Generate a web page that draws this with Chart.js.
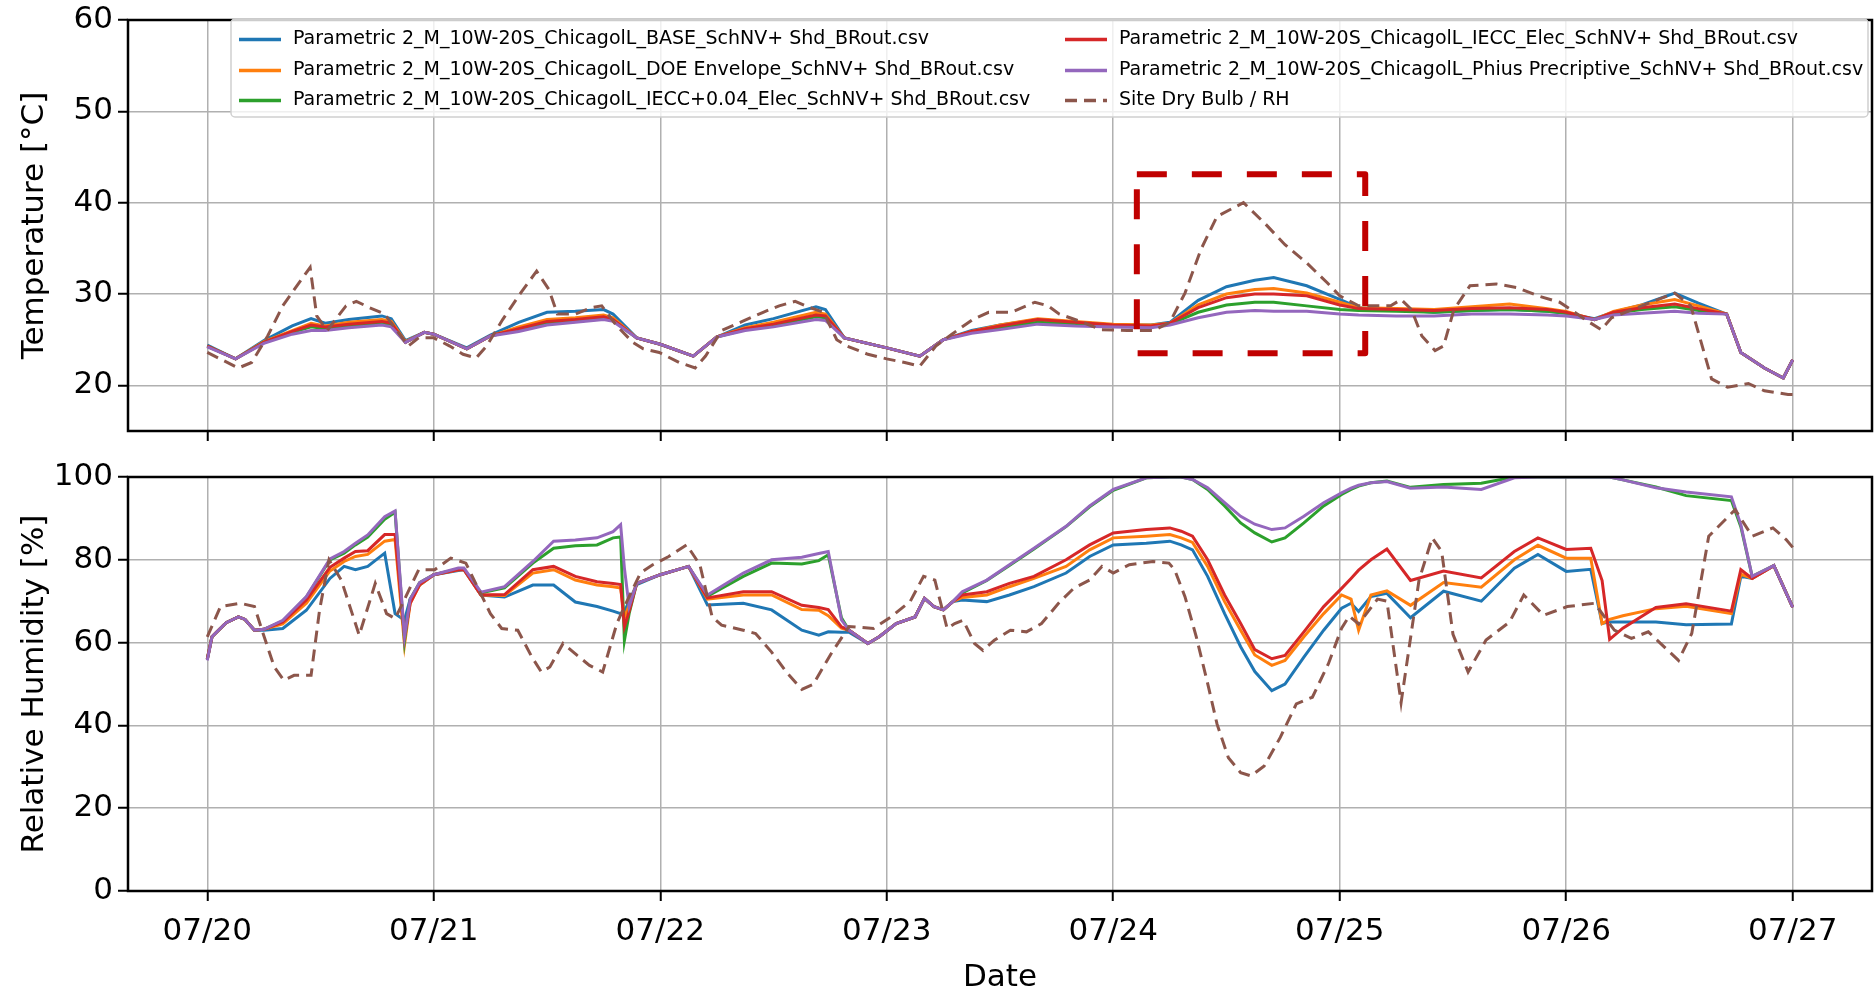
<!DOCTYPE html>
<html>
<head>
<meta charset="utf-8">
<title>Parametric 2 - Chicago - Temperature / RH</title>
<script src="https://cdn.jsdelivr.net/npm/chart.js@4.4.0/dist/chart.umd.min.js"></script>
<style>
    html, body { margin: 0; padding: 0; background: #ffffff; }
    #wrap { position: relative; width: 1876px; height: 991px; overflow: hidden; }
    #tempChart { position: absolute; left: 0; top: -10px; }
    #rhChart { position: absolute; left: 0; top: 450px; }
</style>
</head>
<body>
<div id="wrap">
    <canvas id="tempChart" width="1876" height="470"></canvas>
    <canvas id="rhChart" width="1876" height="541"></canvas>
</div>
<script>
// ---------------------------------------------------------------
// Data (x = hours since 07/20 00:00)
// ---------------------------------------------------------------
const dayHours = [0, 24, 48, 72, 96, 120, 144, 168];
const dayLabels = ['07/20', '07/21', '07/22', '07/23', '07/24', '07/25', '07/26', '07/27'];
const tempTicks = [20, 30, 40, 50, 60];
const rhTicks = [0, 20, 40, 60, 80, 100];

const seriesNames = [
    'Parametric 2_M_10W-20S_ChicagolL_BASE_SchNV+ Shd_BRout.csv',
    'Parametric 2_M_10W-20S_ChicagolL_DOE Envelope_SchNV+ Shd_BRout.csv',
    'Parametric 2_M_10W-20S_ChicagolL_IECC+0.04_Elec_SchNV+ Shd_BRout.csv',
    'Parametric 2_M_10W-20S_ChicagolL_IECC_Elec_SchNV+ Shd_BRout.csv',
    'Parametric 2_M_10W-20S_ChicagolL_Phius Precriptive_SchNV+ Shd_BRout.csv',
    'Site Dry Bulb / RH'
];

// Indoor temperature [°C]
const tempHours = [0, 3, 6, 9, 11, 12.5, 15, 18.5, 19.5, 21, 23, 24, 27.5, 30, 33, 36, 39, 42, 43, 45.5,
    48, 51.5, 54, 57, 60, 64.5, 65.5, 67.5, 72, 75.5, 78, 81, 84, 88, 92, 96, 100, 102, 105, 108,
    111, 113, 116.5, 120, 122, 126, 130, 134, 138, 142, 144, 147, 149, 152, 155.5, 158, 161, 162.5, 165, 167, 168];
const tempBase = [24.4, 22.9, 24.9, 26.5, 27.3, 26.8, 27.2, 27.6, 27.3, 24.9,
    25.8, 25.6, 24.1, 25.5, 26.9, 28.0, 28.1, 28.3, 27.8, 25.2,
    24.5, 23.2, 25.3, 26.6, 27.3, 28.6, 28.3, 25.2, 24.1, 23.2,
    25.0, 26.0, 26.6, 27.2, 26.9, 26.6, 26.6, 26.9, 29.3, 30.8,
    31.5, 31.8, 30.9, 29.4, 28.5, 28.3, 28.0, 28.2, 28.3, 28.1,
    27.9, 27.3, 28.0, 28.8, 30.1, 29.0, 27.8, 23.6, 21.9, 20.8, 22.8];
const tempDoe = [24.3, 22.9, 24.8, 26.0, 26.8, 26.5, 26.9, 27.2, 27.0, 24.8,
    25.8, 25.6, 24.0, 25.4, 26.4, 27.2, 27.4, 27.7, 27.4, 25.2,
    24.5, 23.2, 25.3, 26.3, 26.9, 28.0, 27.8, 25.2, 24.1, 23.2,
    25.0, 25.9, 26.6, 27.3, 27.0, 26.7, 26.6, 26.8, 28.8, 30.0,
    30.5, 30.6, 30.1, 29.1, 28.5, 28.4, 28.3, 28.6, 28.9, 28.4,
    28.1, 27.2, 28.1, 28.8, 29.4, 28.7, 27.8, 23.6, 21.9, 20.8, 22.8];
const tempIecc04 = [24.3, 22.9, 24.7, 25.8, 26.4, 26.2, 26.5, 26.8, 26.6, 24.7,
    25.8, 25.6, 24.0, 25.4, 26.1, 26.8, 27.0, 27.3, 27.1, 25.2,
    24.5, 23.2, 25.3, 26.1, 26.6, 27.5, 27.4, 25.2, 24.1, 23.2,
    25.0, 25.8, 26.3, 26.9, 26.7, 26.5, 26.4, 26.7, 28.0, 28.8,
    29.1, 29.1, 28.7, 28.3, 28.2, 28.1, 28.0, 28.2, 28.3, 28.1,
    27.9, 27.2, 27.9, 28.3, 28.6, 28.2, 27.8, 23.6, 21.9, 20.8, 22.8];
const tempIecc = [24.3, 22.9, 24.7, 25.9, 26.6, 26.4, 26.7, 27.0, 26.8, 24.7,
    25.8, 25.6, 24.0, 25.4, 26.2, 27.0, 27.2, 27.5, 27.2, 25.2,
    24.5, 23.2, 25.3, 26.2, 26.7, 27.7, 27.6, 25.2, 24.1, 23.2,
    25.0, 25.9, 26.5, 27.2, 26.9, 26.6, 26.5, 26.8, 28.5, 29.6,
    30.0, 30.0, 29.8, 28.8, 28.4, 28.3, 28.2, 28.4, 28.5, 28.3,
    28.0, 27.2, 28.0, 28.5, 28.9, 28.4, 27.8, 23.6, 21.9, 20.8, 22.8];
const tempPhius = [24.2, 22.9, 24.6, 25.6, 26.0, 26.0, 26.3, 26.6, 26.4, 24.7,
    25.8, 25.6, 24.0, 25.4, 25.9, 26.6, 26.9, 27.2, 27.0, 25.2,
    24.5, 23.2, 25.3, 26.0, 26.4, 27.2, 27.1, 25.2, 24.1, 23.2,
    25.0, 25.7, 26.1, 26.7, 26.5, 26.4, 26.3, 26.6, 27.4, 28.0,
    28.2, 28.1, 28.1, 27.8, 27.7, 27.6, 27.6, 27.8, 27.8, 27.7,
    27.6, 27.2, 27.7, 27.9, 28.1, 27.9, 27.8, 23.6, 21.9, 20.8, 22.8];

// Site dry bulb [°C]
const siteTempHours = [0, 3.3, 4.7, 6.4, 8, 9.7, 10.9, 11.6, 12.7, 14.7, 15.8, 17.2, 18.8, 21.3, 22.4,
    24, 25.7, 27.1, 28.5, 29.6, 31.3, 33.2, 34.9, 36.2, 37.1, 39, 40.7, 41.8, 43.4, 45.1,
    46.2, 47.9, 50, 51.7, 52.8, 54.5, 56.7, 58.9, 60.6, 62.3, 63.9, 65.3, 66.7, 67.8, 70,
    72, 73.9, 75.5, 77.2, 78.9, 81.1, 82.8, 85.2, 87.7, 89.1, 90.3, 92.5, 94.7, 97.5, 100.3,
    102, 103.6, 105.3, 107, 109.8, 112, 114.2, 116.5, 118.7, 120, 122, 125.4, 126.5, 127.6, 128.7,
    130.1, 131, 132.1, 133.8, 136.6, 138.8, 141, 143.3, 144.9, 146, 147.7, 148.8, 151, 155.5, 157.2,
    158.3, 159.4, 161.1, 163.3, 165, 167.5, 168];
const siteTemp = [23.6, 21.9, 22.5, 25.4, 28.7, 31.2, 32.9, 27.6, 26.0, 28.7, 29.2, 28.5, 27.8, 24.3, 25.2,
    25.2, 24.3, 23.4, 23.0, 24.3, 27.2, 30.1, 32.5, 30.5, 27.8, 27.8, 28.5, 28.7, 26.5, 24.7,
    24.0, 23.6, 22.5, 21.9, 23.2, 26.0, 27.0, 28.0, 28.7, 29.2, 28.5, 28.0, 25.0, 24.3, 23.4,
    22.9, 22.5, 22.1, 24.3, 25.6, 27.2, 28.0, 28.0, 29.1, 28.7, 27.8, 27.0, 26.1, 26.0, 26.0,
    26.9, 30.1, 34.9, 38.5, 40.0, 37.8, 35.4, 33.4, 31.2, 29.8, 28.7, 28.7, 29.4, 28.3, 25.4,
    23.8, 24.3, 28.3, 30.9, 31.1, 30.7, 29.8, 29.1, 28.0, 27.2, 26.1, 27.4, 28.3, 30.1, 28.7,
    24.7, 20.7, 19.8, 20.2, 19.4, 19.0, 19.0];

// Indoor relative humidity [%]
const rhHours = [0, 0.5, 2, 3.3, 4, 5, 6, 8, 10.5, 13, 14.5, 15.7, 17, 18.8, 19.9, 20.9, 21.5, 22.5, 24, 26.6,
    27.2, 29, 31.5, 34.5, 36.7, 39, 41.3, 43, 43.8, 44.2, 44.7, 45.5, 48, 51, 53, 56.8, 59.8, 63, 64.8, 65.8,
    67.2, 68, 70, 71.2, 73, 75, 76, 77, 78, 79, 80, 82.6, 85, 87.6, 91, 93.5, 96, 99.5, 102, 103.2,
    104.4, 106, 107.8, 109.5, 111, 112.8, 114.2, 116.2, 118.3, 120.2, 121.2, 122, 123.3, 125, 127.5, 131, 135, 138.5, 141, 144,
    146.6, 147.8, 148.6, 150, 153.5, 156.7, 161.5, 162.5, 163.7, 166, 168];
const rhBase = [56.0, 61.4, 64.8, 66.2, 65.6, 63.0, 63.0, 63.4, 67.8, 75.5,
    78.4, 77.6, 78.4, 81.6, 67.0, 65.4, 70.5, 73.9, 76.4, 77.4,
    77.6, 71.5, 71.0, 73.9, 73.9, 69.8, 68.7, 67.6, 67.0, 67.5,
    70.0, 74.0, 76.4, 78.4, 69.1, 69.5, 67.9, 63.0, 61.8, 62.6,
    62.5, 62.5, 59.8, 61.4, 64.6, 66.2, 70.7, 68.7, 67.9, 69.9,
    70.3, 69.9, 71.5, 73.5, 76.8, 80.8, 83.6, 84.0, 84.5, 83.6,
    82.4, 76.0, 67.0, 59.0, 53.0, 48.4, 50.0, 56.5, 63.0, 68.3,
    69.5, 67.5, 71.1, 71.9, 66.0, 72.4, 70.0, 78.0, 81.3, 77.2,
    77.7, 64.6, 65.0, 65.0, 65.0, 64.3, 64.5, 76.0, 75.5, 78.6, 68.5];
const rhDoe = [56.0, 61.4, 64.8, 66.2, 65.6, 63.0, 63.2, 64.5, 69.5, 77.3,
    79.6, 80.8, 81.3, 84.5, 84.9, 59.5, 69.5, 73.9, 76.4, 77.6,
    77.6, 71.5, 71.4, 76.8, 77.6, 75.1, 73.9, 73.5, 73.2, 66.0,
    69.0, 74.3, 76.4, 78.4, 70.5, 71.5, 71.5, 68.0, 67.8, 66.5,
    63.5, 63.0, 59.8, 61.4, 64.6, 66.2, 70.7, 68.7, 67.9, 69.9,
    70.9, 71.5, 73.5, 75.5, 78.4, 82.4, 85.3, 85.7, 86.1, 85.3,
    84.2, 78.4, 69.9, 63.0, 57.0, 54.5, 55.7, 61.4, 67.0, 71.5,
    70.5, 63.0, 71.5, 72.5, 69.0, 74.5, 73.4, 80.0, 83.5, 80.4,
    80.4, 64.6, 65.6, 66.5, 68.2, 68.8, 67.0, 76.5, 75.5, 78.6, 68.5];
const rhIecc04 = [56.0, 61.4, 64.8, 66.2, 65.6, 63.0, 63.2, 65.2, 71.0, 80.0,
    81.6, 83.6, 85.5, 89.8, 91.5, 60.5, 70.5, 74.5, 76.4, 77.8,
    77.8, 72.0, 73.2, 79.2, 82.8, 83.4, 83.6, 85.3, 85.5, 60.5,
    67.0, 74.3, 76.4, 78.4, 71.2, 76.0, 79.2, 79.0, 79.8, 81.2,
    66.0, 63.0, 59.8, 61.4, 64.6, 66.2, 70.7, 68.7, 67.9, 69.9,
    72.0, 75.0, 78.6, 82.6, 88.0, 92.8, 96.8, 99.8, 100, 100,
    99.4, 97.0, 93.0, 88.9, 86.5, 84.3, 85.3, 88.9, 93.0, 95.8,
    97.0, 97.8, 98.6, 99.0, 97.5, 98.2, 98.5, 100, 100, 100,
    100, 100, 100, 99.3, 97.6, 95.5, 94.3, 88.0, 76.0, 78.6, 68.5];
const rhIecc = [56.0, 61.4, 64.8, 66.2, 65.6, 63.0, 63.2, 65.0, 70.3, 78.2,
    80.4, 82.0, 82.2, 86.1, 86.1, 61.5, 69.5, 74.0, 76.4, 77.6,
    77.6, 71.5, 71.6, 77.6, 78.4, 76.0, 74.7, 74.3, 74.0, 63.8,
    67.5, 74.3, 76.4, 78.4, 70.8, 72.3, 72.3, 69.0, 68.5, 68.0,
    63.8, 63.0, 59.8, 61.4, 64.6, 66.2, 70.7, 68.7, 67.9, 69.9,
    71.5, 72.3, 74.3, 76.0, 80.0, 83.6, 86.5, 87.3, 87.7, 86.9,
    85.7, 80.0, 71.5, 64.6, 58.3, 56.1, 56.9, 62.6, 68.7, 73.1,
    75.5, 77.5, 80.0, 82.6, 75.0, 77.3, 75.6, 82.0, 85.3, 82.5,
    82.8, 75.0, 60.8, 63.5, 68.5, 69.4, 67.6, 77.6, 75.5, 78.6, 68.5];
const rhPhius = [55.7, 61.4, 64.8, 66.2, 65.6, 63.0, 63.2, 65.4, 71.1, 80.2,
    82.0, 84.0, 86.0, 90.4, 91.8, 61.4, 70.5, 74.5, 76.4, 78.0,
    78.0, 72.2, 73.5, 79.6, 84.5, 84.8, 85.3, 86.8, 88.5, 78.0,
    68.7, 74.3, 76.4, 78.4, 71.5, 76.8, 80.0, 80.6, 81.5, 82.0,
    65.5, 63.0, 59.8, 61.4, 64.6, 66.2, 70.7, 68.7, 67.9, 69.9,
    72.3, 75.1, 78.8, 82.8, 88.1, 93.0, 97.0, 99.8, 100, 100,
    99.4, 97.4, 93.8, 90.5, 88.6, 87.3, 87.7, 90.5, 93.8, 96.2,
    97.3, 98.0, 98.6, 98.9, 97.3, 97.6, 97.0, 99.8, 100, 100,
    100, 100, 100, 99.3, 97.4, 96.4, 95.2, 88.5, 76.0, 78.6, 68.5];

// Site relative humidity [%]
const siteRhHours = [0, 1.4, 3.5, 5, 5.8, 7.1, 8.1, 9.2, 11, 11.9, 12.9, 14.2, 16.1, 17.8, 19,
    19.9, 20.7, 22.4, 24.1, 25.8, 27.4, 28.7, 30, 31.2, 32.9, 34.4, 35.4, 36.3, 37.7, 39.2,
    40.5, 41.9, 43.4, 44.2, 45.9, 47.2, 48.9, 50.8, 52.2, 53.5, 54.5, 56.8, 58.1, 59.8, 61.5,
    63, 64.2, 66.1, 68, 70.6, 72.5, 74.5, 75.9, 77.1, 78.4, 79.2, 80.1, 81.3, 82.2, 83.4,
    85.1, 86.8, 88.4, 90.2, 91.8, 93.5, 94.8, 96, 97.7, 100.2, 101.9, 102.5, 103.6, 104.8, 106.1,
    107, 108.2, 109.5, 110.6, 112, 113.7, 115.4, 117.1, 118.8, 120.2, 121, 122, 124, 125, 126.5,
    128.4, 129.8, 130.8, 132, 133.6, 135.5, 138, 139.5, 141.6, 144.1, 147, 149.1, 150.9, 152.7, 155.9,
    157.3, 159.1, 161.9, 163.7, 165.9, 167.3, 168];
const siteRh = [61.4, 68.7, 69.5, 68.7, 63.0, 54.1, 50.9, 52.1, 52.1, 67.9, 80.0, 75.1, 61.8, 74.3, 67.0,
    65.8, 69.5, 77.6, 77.6, 80.4, 79.2, 73.1, 67.0, 63.4, 63.0, 56.5, 52.9, 54.1, 59.8, 56.9,
    54.5, 52.9, 64.6, 68.7, 76.8, 78.8, 80.8, 83.6, 78.8, 66.2, 64.2, 63.0, 62.2, 57.7, 52.5,
    48.7, 49.9, 57.3, 63.9, 63.4, 66.3, 70.0, 76.0, 75.1, 63.4, 64.6, 65.4, 59.8, 58.1, 60.6,
    63.0, 62.6, 64.6, 69.5, 73.1, 75.1, 78.4, 76.8, 78.8, 79.6, 79.2, 77.6, 71.1, 61.4, 49.2,
    40.3, 32.2, 28.6, 27.8, 30.2, 37.1, 45.2, 46.8, 54.9, 63.5, 66.4, 64.5, 70.5, 70.0, 45.5,
    75.1, 85.3, 82.0, 62.0, 52.9, 60.6, 65.0, 71.5, 66.6, 68.7, 69.5, 63.0, 61.0, 62.6, 55.7,
    62.2, 85.7, 92.1, 85.7, 87.7, 84.9, 83.0];

// Highlighted period (hours, °C)
const highlightHours = [98.5, 122.7];
const highlightTemps = [23.5, 43.1];

// ---------------------------------------------------------------
// Styling
// ---------------------------------------------------------------
const COLORS = ['#1f77b4', '#ff7f0e', '#2ca02c', '#d62728', '#9467bd', '#8c564b'];
const FONT = "'DejaVu Sans', sans-serif";
const X_PAD = 8.4;           // 5% margin either side, like matplotlib
const Y_AXIS_WIDTH = 128;
const GRID_COLOR = '#b0b0b0';

Chart.defaults.font.family = FONT;
Chart.defaults.color = '#000000';

function toPoints(hours, values) {
    return hours.map((h, i) => ({ x: h, y: values[i] }));
}

/**
 * Build the 6 datasets of one panel (5 simulations + site dashed line)
 */
function buildDatasets(simHours, simSeries, siteHours, siteValues) {
    const datasets = simSeries.map((values, i) => ({
        label: seriesNames[i],
        data: toPoints(simHours, values),
        borderColor: COLORS[i],
        borderWidth: 3,
        order: 10 - i,
    }));
    datasets.push({
        label: seriesNames[5],
        data: toPoints(siteHours, siteValues),
        borderColor: COLORS[5],
        borderWidth: 3,
        borderDash: [12, 7],
        order: 1,
    });
    datasets.forEach(ds => {
        ds.pointRadius = 0;
        ds.tension = 0;
        ds.fill = false;
    });
    return datasets;
}

/**
 * Options shared by both panels
 */
function buildOptions({ yMin, yMax, yTicks, yTitle, showX, xHeight, padTop }) {
    return {
        responsive: false,
        animation: false,
        devicePixelRatio: 1,
        layout: { padding: { top: padTop, right: 4, left: 0, bottom: 0 } },
        plugins: {
            legend: { display: false },
            tooltip: { enabled: false },
        },
        scales: {
            x: {
                type: 'linear',
                min: -X_PAD,
                max: 168 + X_PAD,
                afterBuildTicks: (scale) => { scale.ticks = dayHours.map(value => ({ value })); },
                afterFit: (scale) => { scale.height = xHeight; },
                border: { display: false },
                grid: {
                    color: GRID_COLOR,
                    lineWidth: 1.5,
                    drawTicks: true,
                    tickLength: 10,
                    tickColor: '#000000',
                    tickWidth: 2,
                },
                ticks: {
                    display: showX,
                    maxRotation: 0,
                    autoSkip: false,
                    padding: 12,
                    font: { size: 31 },
                    color: '#000000',
                    callback: (value, index) => dayLabels[index],
                },
                title: {
                    display: showX,
                    text: 'Date',
                    font: { size: 31, lineHeight: 0.85 },
                    padding: { top: 0, bottom: 0 },
                    color: '#000000',
                },
            },
            y: {
                min: yMin,
                max: yMax,
                afterBuildTicks: (scale) => { scale.ticks = yTicks.map(value => ({ value })); },
                afterFit: (scale) => { scale.width = Y_AXIS_WIDTH; },
                border: { display: false },
                grid: {
                    color: GRID_COLOR,
                    lineWidth: 1.5,
                    drawTicks: true,
                    tickLength: 10,
                    tickColor: '#000000',
                    tickWidth: 2,
                },
                ticks: {
                    padding: 5,
                    font: { size: 31 },
                    color: '#000000',
                    callback: (value) => String(value),
                },
                title: {
                    display: true,
                    text: yTitle,
                    font: { size: 31 },
                    padding: { top: 16, bottom: 0 },
                    color: '#000000',
                },
            },
        },
    };
}

// Black frame round the plot area (all four spines)
const framePlugin = {
    id: 'frame',
    afterDatasetsDraw(chart) {
        const { ctx, chartArea: a } = chart;
        ctx.save();
        ctx.strokeStyle = '#000000';
        ctx.lineWidth = 2.5;
        ctx.strokeRect(a.left, a.top, a.right - a.left, a.bottom - a.top);
        ctx.restore();
    }
};

// Red dashed box marking the hot period, placed through the scales
const highlightPlugin = {
    id: 'highlight',
    afterDatasetsDraw(chart) {
        const { ctx, scales } = chart;
        const x0 = scales.x.getPixelForValue(highlightHours[0]);
        const x1 = scales.x.getPixelForValue(highlightHours[1]);
        const y0 = scales.y.getPixelForValue(highlightTemps[1]);
        const y1 = scales.y.getPixelForValue(highlightTemps[0]);
        ctx.save();
        ctx.strokeStyle = '#c00000';
        ctx.lineWidth = 6;
        ctx.lineJoin = 'round';
        ctx.setLineDash([30, 25]);
        ctx.strokeRect(x0, y0, x1 - x0, y1 - y0);
        ctx.restore();
    }
};

// Two-column legend box at the top of the temperature panel
// (canvas is shifted up by 10px, so positions are page y + 10)
const LEGEND = { left: 231, top: 29, width: 1637, height: 98, colX: [239, 1065], rowY: [49.5, 80.5, 110.5] };
const legendPlugin = {
    id: 'boxLegend',
    afterDraw(chart) {
        const ctx = chart.ctx;
        ctx.save();
        ctx.fillStyle = 'rgba(255,255,255,0.8)';
        ctx.strokeStyle = '#d0d0d0';
        ctx.lineWidth = 1.5;
        ctx.beginPath();
        ctx.roundRect(LEGEND.left, LEGEND.top, LEGEND.width, LEGEND.height, 4);
        ctx.fill();
        ctx.stroke();

        ctx.font = '19px ' + FONT;
        ctx.textBaseline = 'middle';
        chart.data.datasets.forEach((ds, i) => {
            const x = LEGEND.colX[Math.floor(i / 3)];
            const y = LEGEND.rowY[i % 3];
            ctx.strokeStyle = ds.borderColor;
            ctx.lineWidth = 3.5;
            ctx.setLineDash(ds.borderDash || []);
            ctx.beginPath();
            ctx.moveTo(x, y);
            ctx.lineTo(x + 42, y);
            ctx.stroke();
            ctx.setLineDash([]);
            ctx.fillStyle = '#000000';
            ctx.fillText(ds.label, x + 54, y);
        });
        ctx.restore();
    }
};

// ---------------------------------------------------------------
// Charts
// ---------------------------------------------------------------
new Chart(document.getElementById('tempChart'), {
    type: 'line',
    data: {
        datasets: buildDatasets(tempHours, [tempBase, tempDoe, tempIecc04, tempIecc, tempPhius], siteTempHours, siteTemp)
    },
    options: buildOptions({
        yMin: 15, yMax: 60, yTicks: tempTicks, yTitle: 'Temperature [°C]',
        showX: false, xHeight: 29, padTop: 30
    }),
    plugins: [framePlugin, highlightPlugin, legendPlugin]
});

new Chart(document.getElementById('rhChart'), {
    type: 'line',
    data: {
        datasets: buildDatasets(rhHours, [rhBase, rhDoe, rhIecc04, rhIecc, rhPhius], siteRhHours, siteRh)
    },
    options: buildOptions({
        yMin: 0, yMax: 100, yTicks: rhTicks, yTitle: 'Relative Humidity [%]',
        showX: true, xHeight: 100, padTop: 27
    }),
    plugins: [framePlugin]
});
</script>
</body>
</html>
